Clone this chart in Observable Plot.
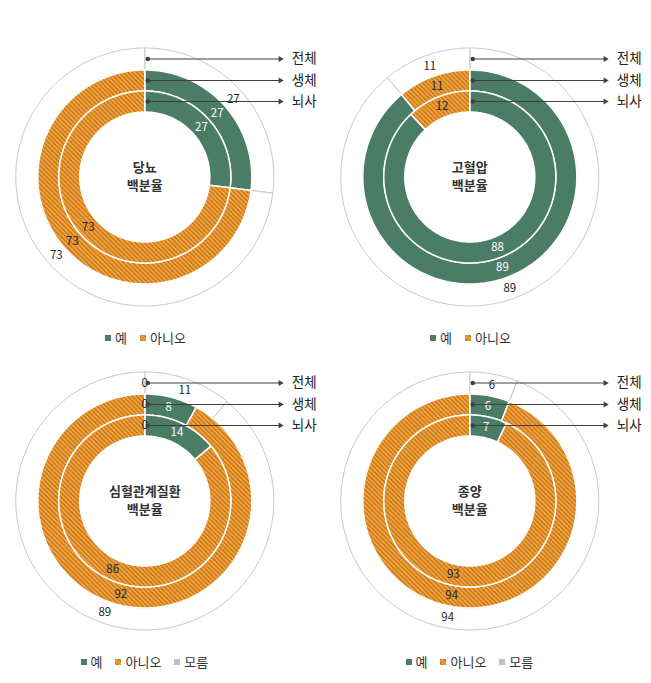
<!DOCTYPE html>
<html><head><meta charset="utf-8">
<script src="https://cdn.jsdelivr.net/npm/d3@7"></script>
<script src="https://cdn.jsdelivr.net/npm/@observablehq/plot@0.6"></script>
<style>
body{margin:0;background:#fff;font-family:"Noto Sans CJK KR","Noto Sans",sans-serif;}
#root{position:relative;width:651px;height:683px;overflow:hidden;background:#fff;}
.panel{position:absolute;}
.legend{position:absolute;font-size:13px;color:#333;white-space:nowrap;display:flex;align-items:center;height:16px;line-height:16px;}
.item{display:flex;align-items:center;margin-right:13px;}
.sw{display:inline-block;width:6px;height:6px;margin-right:4px;}
</style></head><body><div id="root"></div>
<script>
// ---- data ----
const ringNames = ["전체", "생체", "뇌사"];          // outer → inner
const categories = ["예", "아니오", "모름"];
const chartTitles = ["당뇨", "고혈압", "심혈관계질환", "종양"];
const subTitle = "백분율";
// values per ring: [전체, 생체, 뇌사]
const diabetesYes = [27, 27, 27];
const diabetesNo = [73, 73, 73];
const hypertensionYes = [89, 89, 88];
const hypertensionNo = [11, 11, 12];
const cardioYes = [11, 8, 14];
const cardioNo = [89, 92, 86];
const cardioUnknown = [0, 0, 0];
const tumorYes = [6, 6, 7];
const tumorNo = [94, 94, 93];
const tumorUnknown = [null, null, null];

const charts = [
  {title: chartTitles[0], series: [diabetesYes, diabetesNo, null], legend: ["예", "아니오"]},
  {title: chartTitles[1], series: [hypertensionYes, hypertensionNo, null], legend: ["예", "아니오"]},
  {title: chartTitles[2], series: [cardioYes, cardioNo, cardioUnknown], legend: ["예", "아니오", "모름"]},
  {title: chartTitles[3], series: [tumorYes, tumorNo, tumorUnknown], legend: ["예", "아니오", "모름"]}
];

// ---- layout ----
const GREEN = "#4a7c66", ORANGE = "#f2a33a", STRIPE = "#c77820", GRAY = "#bfbfbf";
const W = 325, H = 312, CX = 144.3, CY = 176.5;
const ringRadii = [[107, 129], [86, 107], [65, 86]];
const panelPos = [[0, 0], [325, 0], [0, 323.5], [325, 323.5]];
const legendPos = [[105, 329.5], [430, 329.5], [80.5, 654], [405.5, 654]];

function arcPoints(a0, a1, r0, r1) {
  const pts = [];
  const n = Math.max(2, Math.ceil((a1 - a0) / 1));
  for (let i = 0; i <= n; i++) { const a = (a0 + (a1 - a0) * i / n) * Math.PI / 180; pts.push([r1 * Math.sin(a), r1 * Math.cos(a)]); }
  for (let i = n; i >= 0; i--) { const a = (a0 + (a1 - a0) * i / n) * Math.PI / 180; pts.push([r0 * Math.sin(a), r0 * Math.cos(a)]); }
  pts.push(pts[0]);
  return pts;
}

const root = document.getElementById("root");

charts.forEach((ch, ci) => {
  const polys = [], labels = [];
  ringNames.forEach((ring, ri) => {
    const vals = categories.map((c, k) => ch.series[k] ? ch.series[k][ri] : null);
    const total = d3.sum(vals.filter(v => v != null));
    let cum = 0;
    vals.forEach((v, k) => {
      if (v == null) return;
      const a0 = cum / total * 360; cum += v; const a1 = cum / total * 360;
      const [r0, r1] = ringRadii[ri];
      if (a1 > a0) arcPoints(a0, a1, r0, r1).forEach(([x, y]) => polys.push({id: ri + "-" + k, ring: ri, cat: k, x, y}));
      const am = (a0 + a1) / 2 * Math.PI / 180, rm = (r0 + r1) / 2;
      labels.push({x: rm * Math.sin(am), y: rm * Math.cos(am), t: String(v),
        fill: (ri > 0 && k === 0) ? "#ffffff" : "#262626"});
    });
  });
  const arrows = ringNames.map((name, ri) => ({name, r: (ringRadii[ri][0] + ringRadii[ri][1]) / 2}));
  const pid = "hatch" + ci;
  const svg = Plot.plot({
    width: W, height: H, marginTop: 0, marginBottom: 0, marginLeft: 0, marginRight: 0,
    x: {domain: [-CX, W - CX], axis: null},
    y: {domain: [-(H - CY), CY], axis: null},
    style: {fontFamily: '"Noto Sans CJK KR", sans-serif', background: "transparent", overflow: "visible"},
    marks: [
      Plot.line(polys.filter(d => d.ring === 0), {x: "x", y: "y", z: "id", fill: "#ffffff", stroke: "#c8c8c8", strokeWidth: 1}),
      Plot.line(polys.filter(d => d.ring > 0 && d.cat === 0), {x: "x", y: "y", z: "id", fill: GREEN, stroke: "#ffffff", strokeWidth: 1.5}),
      Plot.line(polys.filter(d => d.ring > 0 && d.cat === 1), {x: "x", y: "y", z: "id", fill: `url(#${pid})`, stroke: "#ffffff", strokeWidth: 1.5}),
      Plot.line(polys.filter(d => d.ring > 0 && d.cat === 2), {x: "x", y: "y", z: "id", fill: GRAY, stroke: "#ffffff", strokeWidth: 1.5}),
      Plot.text(labels, {x: "x", y: "y", text: "t", fill: "fill", fontSize: 11.5}),
      Plot.link(arrows, {x1: () => 3, y1: "r", x2: () => 135, y2: "r", stroke: "#404040", strokeWidth: 1}),
      Plot.dot(arrows, {x: () => 3, y: "r", r: 2.3, fill: "#404040", stroke: null}),
      Plot.dot(arrows, {x: () => 135.5, y: "r", symbol: "triangle2", rotate: 90, r: 2.8, fill: "#404040", stroke: null}),
      Plot.text(arrows, {x: () => 147, y: "r", text: "name", textAnchor: "start", fontSize: 13.5, fill: "#222"}),
      Plot.text([ch.title], {x: () => 0, y: () => 0, dy: -9, text: d => d, fontSize: 13, fontWeight: "bold", fill: "#333"}),
      Plot.text([subTitle], {x: () => 0, y: () => 0, dy: 9, text: d => d, fontSize: 13, fontWeight: "bold", fill: "#333"})
    ]
  });
  d3.select(svg).insert("defs", ":first-child").html(
    `<pattern id="${pid}" patternUnits="userSpaceOnUse" width="3.2" height="3.2" patternTransform="rotate(-45)">` +
    `<rect width="3.2" height="3.2" fill="${ORANGE}"/><rect width="1.4" height="3.2" fill="${STRIPE}"/></pattern>`);
  const div = document.createElement("div");
  div.className = "panel";
  div.style.left = panelPos[ci][0] + "px"; div.style.top = panelPos[ci][1] + "px";
  div.appendChild(svg);
  root.appendChild(div);

  const lg = document.createElement("div");
  lg.className = "legend";
  lg.style.left = legendPos[ci][0] + "px"; lg.style.top = legendPos[ci][1] + "px";
  ch.legend.forEach(name => {
    const k = categories.indexOf(name);
    const bg = k === 0 ? GREEN : k === 2 ? GRAY :
      `repeating-linear-gradient(45deg, ${ORANGE} 0px, ${ORANGE} 1.2px, ${STRIPE} 1.2px, ${STRIPE} 2.4px)`;
    const it = document.createElement("span");
    it.className = "item";
    it.innerHTML = `<span class="sw" style="background:${bg}"></span><span>${name}</span>`;
    lg.appendChild(it);
  });
  root.appendChild(lg);
});
</script></body></html>
